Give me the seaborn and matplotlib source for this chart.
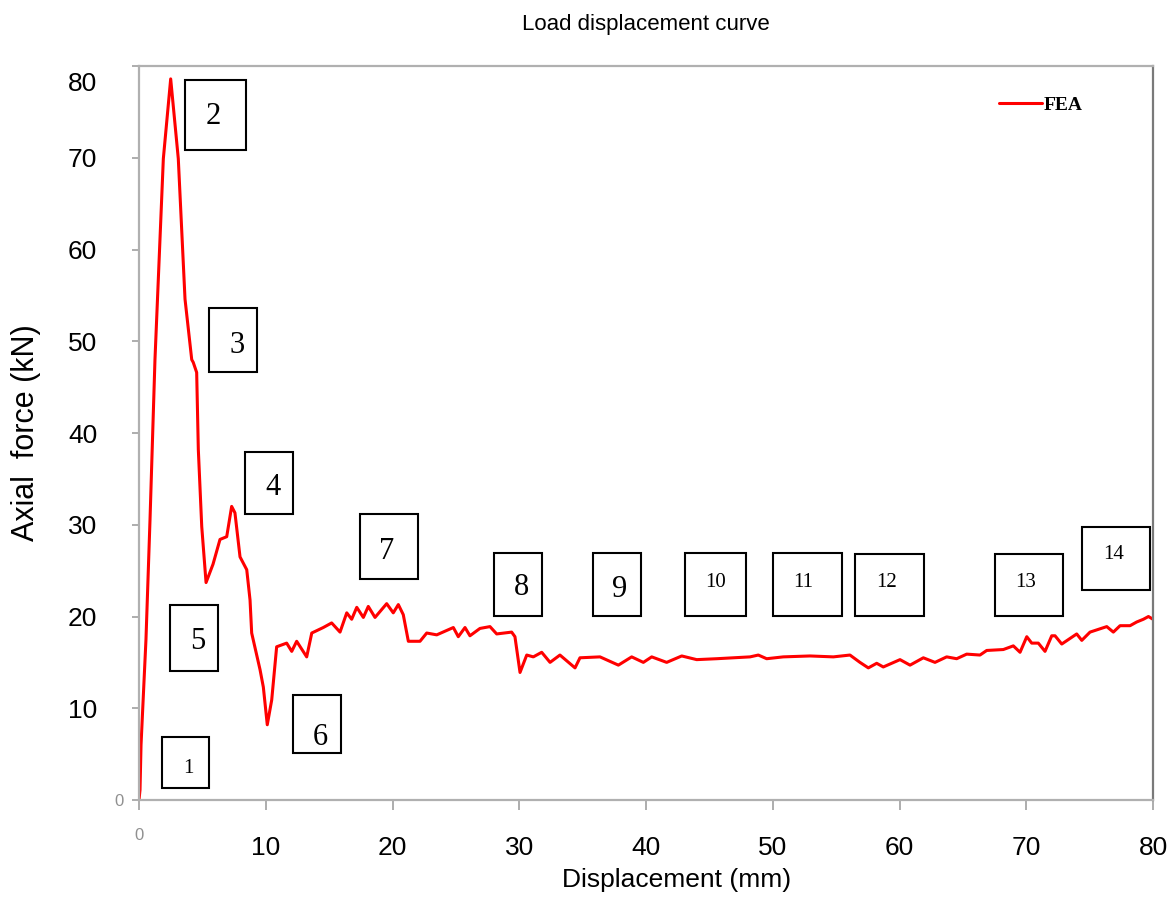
import numpy as np
import pandas as pd
import matplotlib
matplotlib.use("Agg")
import matplotlib.pyplot as plt
from matplotlib.patches import Rectangle
from matplotlib.transforms import ScaledTranslation
import seaborn as sns

# load-displacement curve
displacement = [0.0, 0.08, 0.16, 0.55, 0.87, 1.26, 1.92, 2.50, 3.10, 3.63, 4.16, 4.28,
                4.55, 4.68, 4.95, 5.29, 5.84, 6.39, 6.92, 7.31, 7.57, 7.97, 8.50, 8.76,
                8.89, 9.55, 9.81, 10.12, 10.47, 10.86, 11.65, 12.05, 12.44, 13.23, 13.63,
                14.54, 15.20, 15.86, 16.39, 16.78, 17.18, 17.70, 18.09, 18.62, 19.54,
                20.06, 20.46, 20.85, 21.25, 22.17, 22.70, 23.49, 24.80, 25.19, 25.72,
                26.11, 26.90, 27.69, 28.22, 29.40, 29.66, 30.06, 30.59, 31.11, 31.77,
                32.43, 33.21, 34.40, 34.79, 36.37, 37.82, 38.87, 39.79, 40.45, 41.63,
                42.82, 44.00, 45.58, 48.21, 48.86, 49.52, 50.83, 52.94, 54.78, 56.09,
                56.88, 57.54, 58.20, 58.72, 60.04, 60.83, 61.88, 62.80, 63.72, 64.51,
                65.30, 66.35, 66.88, 68.19, 68.98, 69.51, 70.04, 70.43, 70.95, 71.48,
                72.01, 72.27, 72.80, 73.98, 74.38, 75.03, 76.35, 76.87, 77.40, 78.19,
                78.71, 79.24, 79.64, 80.0]
axial_force = [0.0, 1.1, 6.0, 17.5, 30.6, 48.0, 69.9, 78.6, 69.9, 54.6, 48.0, 47.7,
               46.6, 38.2, 29.8, 23.7, 25.7, 28.4, 28.7, 32.0, 31.3, 26.5, 25.1, 21.8,
               18.2, 14.2, 12.3, 8.2, 10.9, 16.7, 17.1, 16.2, 17.3, 15.6, 18.2,
               18.8, 19.3, 18.3, 20.4, 19.7, 21.0, 19.9, 21.1, 19.9, 21.4,
               20.4, 21.3, 20.2, 17.3, 17.3, 18.2, 18.0, 18.8, 17.8, 18.8,
               17.9, 18.7, 18.9, 18.1, 18.3, 17.8, 13.9, 15.8, 15.6, 16.1,
               15.0, 15.8, 14.4, 15.5, 15.6, 14.7, 15.6, 15.0, 15.6, 15.0,
               15.7, 15.3, 15.4, 15.6, 15.8, 15.4, 15.6, 15.7, 15.6, 15.8,
               15.0, 14.4, 14.9, 14.5, 15.3, 14.7, 15.5, 15.0, 15.6, 15.4,
               15.9, 15.8, 16.3, 16.4, 16.8, 16.1, 17.8, 17.1, 17.1, 16.2,
               17.9, 17.9, 17.0, 18.1, 17.4, 18.3, 18.9, 18.3, 19.0, 19.0,
               19.4, 19.7, 20.0, 19.7]

# numbered stage labels
stage_labels = [str(i) for i in range(1, 15)]
x_ticks = [0, 10, 20, 30, 40, 50, 60, 70, 80]
y_ticks = [0, 10, 20, 30, 40, 50, 60, 70, 80]

# annotation boxes (x0, x1, y0, y1) and text anchors, in data units
box_extents = [(1.79, 5.55, 1.28, 6.91), (3.63, 8.42, 70.80, 78.44),
               (5.52, 9.33, 46.66, 53.62), (8.39, 12.18, 31.20, 37.93),
               (2.45, 6.26, 14.01, 21.30), (12.13, 15.96, 5.10, 11.47),
               (17.44, 22.04, 24.13, 31.20), (28.01, 31.82, 20.02, 26.94),
               (35.79, 39.58, 20.09, 26.97), (43.10, 47.87, 20.09, 26.97),
               (50.04, 55.44, 20.02, 26.97), (56.49, 61.91, 20.02, 26.86),
               (67.51, 72.92, 20.02, 26.86), (74.42, 79.76, 22.93, 29.81)]
text_anchors = [(3.89, 3.46), (5.89, 74.48), (7.76, 49.50), (10.60, 34.07),
                (4.65, 17.29), (14.28, 6.77), (19.54, 27.12), (30.19, 23.12),
                (37.95, 22.93), (45.52, 23.73), (52.41, 23.73), (58.99, 23.66),
                (69.96, 23.66), (76.87, 26.76)]

df = pd.DataFrame({"Displacement": displacement, "Force": axial_force})

sns.set_theme(style="white")
plt.rcParams["font.family"] = ["Liberation Sans", "DejaVu Sans"]
plt.rcParams["text.color"] = "black"
plt.rcParams["axes.labelcolor"] = "black"
plt.rcParams["xtick.color"] = "black"
plt.rcParams["ytick.color"] = "black"

fig = plt.figure(figsize=(11.72, 9.01), dpi=100)
ax = fig.add_axes([0.1186, 0.1121, 0.8652, 0.8146])

sns.lineplot(data=df, x="Displacement", y="Force", color="red", linewidth=2.2,
             estimator=None, sort=False, label="FEA", ax=ax)

ax.set_xlim(0, 80)
ax.set_ylim(0, 80)
ax.set_xticks(x_ticks)
ax.set_yticks(y_ticks)

narrow = ["Liberation Sans Narrow", "Liberation Sans"]
ax.set_xticklabels([str(t) for t in x_ticks], fontsize=19, family=narrow)
ax.set_yticklabels([str(t) for t in y_ticks], fontsize=19, family=narrow)
ax.tick_params(axis="y", direction="out", length=5, width=1.2, color="#a0a0a0",
               labelcolor="black", pad=25, left=True)
ax.tick_params(axis="x", direction="out", length=7, width=1.2, color="#a0a0a0",
               labelcolor="black", pad=19, bottom=True)

# the zero labels are grey and smaller in the original
for lab in (ax.get_xticklabels()[0], ax.get_yticklabels()[0]):
    lab.set_color("#909090")
    lab.set_fontsize(12)
ax.yaxis.get_major_ticks()[0].set_pad(6)
ax.xaxis.get_major_ticks()[0].set_pad(13)

# top y label sits a little below its tick in the original
top_lab = ax.get_yticklabels()[-1]
top_lab.set_transform(top_lab.get_transform() + ScaledTranslation(0, -0.15, fig.dpi_scale_trans))

for side in ["left", "bottom", "top"]:
    ax.spines[side].set_color("#b0b0b0")
    ax.spines[side].set_linewidth(1.6)
ax.spines["right"].set_color("#7a7a7a")
ax.spines["right"].set_linewidth(1.6)

ax.set_xlabel("Displacement (mm)", fontsize=19, family=narrow)
ax.set_ylabel("Axial  force (kN)", fontsize=22)
ax.xaxis.set_label_coords(0.53, -0.093)
ax.yaxis.set_label_coords(-0.097, 0.5)
ax.set_title("Load displacement curve", fontsize=16, pad=26)

for lab, (x0, x1, y0, y1), (tx, ty) in zip(stage_labels, box_extents, text_anchors):
    ax.add_patch(Rectangle((x0, y0), x1 - x0, y1 - y0, fill=False,
                           edgecolor="black", linewidth=1.5, zorder=3))
    size = 22 if 1 < int(lab) < 10 else 15
    ax.text(tx, ty, lab, ha="center", va="center", fontsize=size,
            family=["Liberation Serif", "DejaVu Serif"], zorder=4)

leg = ax.legend(loc="center right", bbox_to_anchor=(0.948, 0.947), frameon=False,
                handlelength=2.2, handletextpad=0.1,
                prop={"family": "Liberation Serif", "weight": "bold", "size": 14})

fig.savefig("out.png", dpi=100)
